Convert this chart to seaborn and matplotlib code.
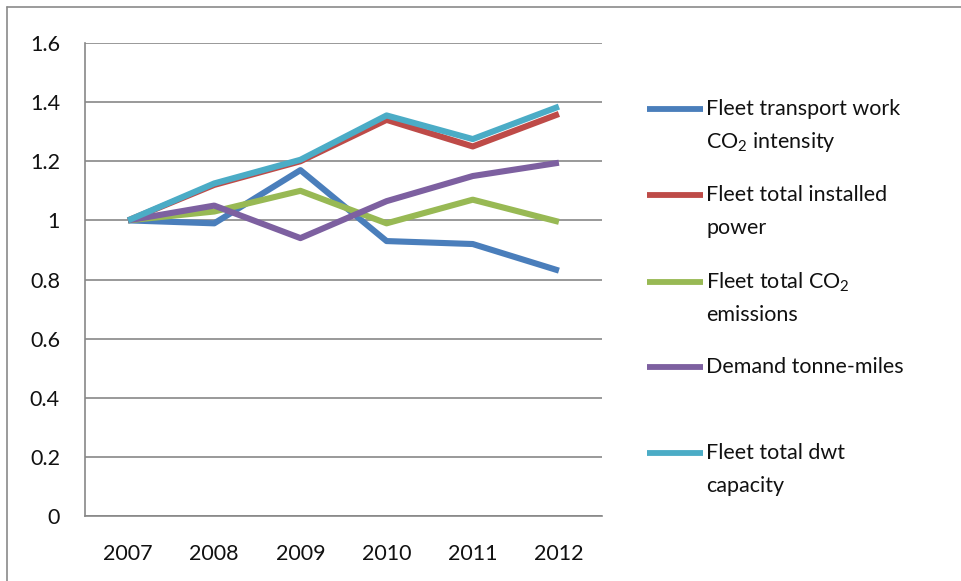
import matplotlib
matplotlib.use("Agg")
import matplotlib.pyplot as plt
import seaborn as sns
import pandas as pd
from matplotlib.lines import Line2D

years = ["2007", "2008", "2009", "2010", "2011", "2012"]
transport_work_intensity = [1.00, 0.99, 1.17, 0.93, 0.92, 0.83]
installed_power = [1.00, 1.12, 1.20, 1.34, 1.25, 1.36]
total_co2 = [1.00, 1.03, 1.10, 0.99, 1.07, 0.995]
demand_tonne_miles = [1.00, 1.05, 0.94, 1.065, 1.15, 1.195]
dwt_capacity = [1.00, 1.125, 1.205, 1.355, 1.275, 1.385]

series_names = ["transport", "power", "co2", "demand", "dwt"]
series_values = [transport_work_intensity, installed_power, total_co2,
                 demand_tonne_miles, dwt_capacity]
legend_labels = [
    ("Fleet transport work", "CO$_2$ intensity"),
    ("Fleet total installed", "power"),
    ("Fleet total CO$_2$", "emissions"),
    ("Demand tonne-miles", ""),
    ("Fleet total dwt", "capacity"),
]
colors = ["#4A7EBB", "#BE4B48", "#98B954", "#7D60A0", "#4BACC6"]
y_ticks = [0, 0.2, 0.4, 0.6, 0.8, 1.0, 1.2, 1.4, 1.6]
y_tick_labels = ["0", "0.2", "0.4", "0.6", "0.8", "1", "1.2", "1.4", "1.6"]

rows = []
for name, vals in zip(series_names, series_values):
    for y, v in zip(years, vals):
        rows.append({"year": y, "value": v, "series": name})
df = pd.DataFrame(rows)

sns.set_style("white")
plt.rcParams["font.family"] = ["Lato", "DejaVu Sans"]
plt.rcParams["mathtext.fontset"] = "custom"
plt.rcParams["mathtext.rm"] = "Lato"
plt.rcParams["mathtext.default"] = "regular"

W, H = 961, 581
fig = plt.figure(figsize=(W / 100, H / 100), dpi=100)
ax = fig.add_axes([85 / W, 1 - 516 / H, (602 - 85) / W, (516 - 43) / H])

grid_col = "#878787"
txt_col = "#111111"
for yt in y_ticks:
    ax.axhline(yt, color=grid_col, lw=1.2, zorder=0)

sns.lineplot(data=df, x="year", y="value", hue="series", hue_order=series_names,
             palette=colors, linewidth=4.4, sort=False, legend=False, ax=ax,
             solid_capstyle="butt")

ax.set_xlim(-0.5, 5.5)
ax.set_ylim(0, 1.6)
ax.set_xlabel("")
ax.set_ylabel("")
ax.set_yticks(y_ticks)
ax.set_yticklabels(y_tick_labels)
ax.set_xticks(range(len(years)))
ax.set_xticklabels(years)
ax.set_xticks([i - 0.5 for i in range(len(years) + 1)], minor=True)
ax.tick_params(axis="x", which="major", length=0, pad=20, labelsize=15.5, colors=txt_col)
ax.tick_params(axis="x", which="minor", length=6, width=1.2, color=grid_col, direction="out")
ax.tick_params(axis="y", which="major", length=6, width=1.2, color=grid_col, pad=12,
               labelsize=15.5, labelcolor=txt_col, direction="out")
for s in ["top", "right"]:
    ax.spines[s].set_visible(False)
for s in ["left", "bottom"]:
    ax.spines[s].set_color(grid_col)
    ax.spines[s].set_linewidth(1.2)
    ax.spines[s].set_zorder(1)

# legend drawn manually (handle aligned with first line of each label)
first_y = [109, 195, 282, 367, 453]
for (l1, l2), c, yp in zip(legend_labels, colors, first_y):
    fy = 1 - yp / H
    fig.add_artist(Line2D([647 / W, 703 / W], [fy, fy], color=c, lw=4.2,
                          transform=fig.transFigure, solid_capstyle="butt"))
    fig.text(706 / W, fy, l1, fontsize=15.5, color=txt_col, va="center", ha="left")
    if l2:
        fig.text(706 / W, 1 - (yp + 33) / H, l2, fontsize=15.5, color=txt_col,
                 va="center", ha="left")

# outer chart border (top and left)
fig.add_artist(Line2D([7 / W, 1], [1 - 7 / H, 1 - 7 / H], color="#8a8a8a", lw=1.2,
                      transform=fig.transFigure))
fig.add_artist(Line2D([7 / W, 7 / W], [0, 1 - 7 / H], color="#8a8a8a", lw=1.2,
                      transform=fig.transFigure))

fig.savefig("out.png", dpi=100)
